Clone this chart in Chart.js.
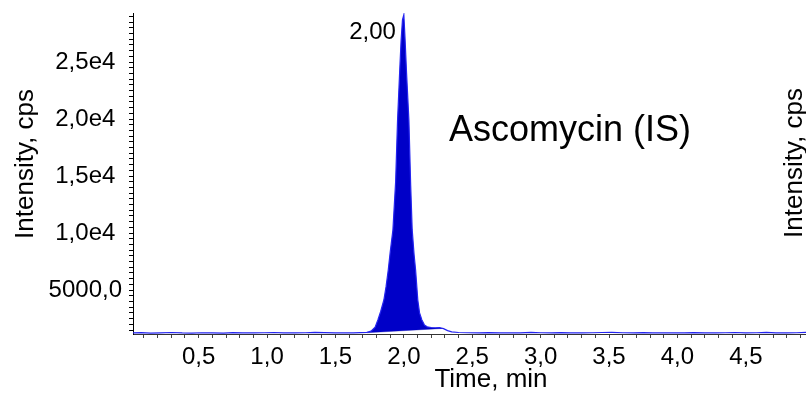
<!DOCTYPE html>
<html><head><meta charset="utf-8">
<style>html,body{margin:0;padding:0;background:#fff;overflow:hidden}#wrap{width:806px;height:395px;position:relative}</style>
<script src="https://cdn.jsdelivr.net/npm/chart.js@4.4.1/dist/chart.umd.min.js"></script>
</head><body><div id="wrap"><canvas id="c" width="806" height="395"></canvas></div>
<script>
// ---- data ----
const times = [0.02,0.08,0.15,0.22,0.30,0.38,0.45,0.52,0.60,0.68,0.75,0.82,0.90,0.98,1.05,1.12,1.20,1.28,1.35,1.42,1.50,1.57,1.63,1.68,
  1.73,1.76,1.79,1.81,1.83,1.854,1.87,1.886,1.90,1.92,1.94,1.954,1.97,1.98,1.99,2.00,2.009,2.02,2.037,2.05,2.061,2.075,2.086,2.102,2.115,2.132,2.15,2.17,2.20,2.23,2.26,2.29,2.32,2.35,2.40,
  2.47,2.55,2.62,2.70,2.78,2.85,2.93,3.00,3.08,3.15,3.22,3.30,3.38,3.45,3.52,3.60,3.68,3.75,3.82,3.90,3.98,4.05,4.12,4.20,4.28,4.35,4.42,4.50,4.58,4.65,4.72,4.80,4.87,4.94];
const intensity = [1240,1270,1230,1250,1280,1240,1230,1260,1250,1230,1270,1250,1240,1260,1280,1250,1240,1260,1290,1270,1250,1260,1250,1270,
  1290,1400,1750,2380,3100,4130,5300,6760,8300,10270,14500,19900,24300,26900,28700,29150,27000,24000,19900,14200,10300,8100,6760,4130,3000,2380,1950,1780,1720,1700,1710,1620,1450,1340,1280,
  1260,1250,1270,1240,1260,1250,1290,1260,1250,1270,1250,1240,1260,1280,1300,1260,1250,1270,1250,1240,1260,1250,1270,1250,1240,1260,1280,1250,1260,1290,1250,1240,1260,1290];
const integrationTimes = [1.73, 2.29];
const integrationLevels = [1260, 1640];
const xMajorTicks = [0.5,1.0,1.5,2.0,2.5,3.0,3.5,4.0,4.5];
const xTickLabels = ['0,5','1,0','1,5','2,0','2,5','3,0','3,5','4,0','4,5'];
const yMajorTicks = [5000,10000,15000,20000,25000];
const yTickLabels = ['5000,0','1,0e4','1,5e4','2,0e4','2,5e4'];
const peakTime = 2.00;
const peakLabel = '2,00';
const compoundName = 'Ascomycin (IS)';
const xTitle = 'Time, min';
const yTitle = 'Intensity, cps';

// minor tick positions (axis decoration)
const xMinor = []; for (let i = 1; i <= 49; i++) xMinor.push(i / 10);
const yMinor = []; for (let v = 1500; v <= 29000; v += 500) yMinor.push(v);

const FONT = "'Liberation Sans', Arial, sans-serif";
const near = (a, b) => Math.abs(a - b) < 1e-6;

const textPlugin = {
  id: 'texts',
  afterDraw(chart) {
    const ctx = chart.ctx;
    const xs = chart.scales.x, ys = chart.scales.y;
    ctx.save();
    ctx.fillStyle = '#000';
    // peak label
    const idx = times.findIndex(t => near(t, peakTime));
    const px = xs.getPixelForValue(times[idx]);
    const py = ys.getPixelForValue(intensity[idx]);
    ctx.font = '24px ' + FONT;
    ctx.textAlign = 'right'; ctx.textBaseline = 'middle';
    ctx.fillText(peakLabel, px - 8, py + 18);
    // compound name
    ctx.font = '36px ' + FONT;
    ctx.textAlign = 'center';
    ctx.fillText(compoundName, 570, 131);
    // x title
    ctx.font = '26px ' + FONT;
    ctx.fillText(xTitle, 491, 380);
    // y title left
    ctx.font = '26px ' + FONT;
    ctx.save(); ctx.translate(26, 164); ctx.rotate(-Math.PI / 2);
    ctx.fillText(yTitle, 0, 0); ctx.restore();
    // neighbouring panel y title (right edge)
    ctx.save(); ctx.translate(795, 163); ctx.rotate(-Math.PI / 2);
    ctx.fillText(yTitle, 0, 0); ctx.restore();
    ctx.restore();
  }
};

new Chart(document.getElementById('c'), {
  type: 'scatter',
  data: {
    datasets: [
      {
        data: times.map((t, i) => ({x: t, y: intensity[i]})),
        showLine: true, borderColor: '#2424f0', borderWidth: 1.2,
        pointRadius: 0, tension: 0,
        fill: {target: 1, above: '#0000c8', below: '#0000c8'}
      },
      {
        data: integrationTimes.map((t, i) => ({x: t, y: integrationLevels[i]})),
        showLine: true, borderColor: 'rgba(0,0,150,0.6)', borderWidth: 0.6,
        pointRadius: 0, fill: false
      }
    ]
  },
  options: {
    responsive: false, animation: false, devicePixelRatio: 1,
    layout: {padding: {top: 13, left: 0, right: 0, bottom: 0}},
    plugins: {legend: {display: false}, tooltip: {enabled: false}},
    scales: {
      x: {
        type: 'linear', min: 0.02, max: 4.94,
        afterBuildTicks(s) { s.ticks = xMinor.map(v => ({value: v})); },
        afterFit(s) { s.height = 61; s.paddingLeft = 0; s.paddingRight = 0; },
        grid: {display: true, drawOnChartArea: false, drawTicks: true, tickLength: 4, color: '#444', lineWidth: 1},
        border: {display: true, color: '#333', width: 1},
        ticks: {
          autoSkip: false, maxRotation: 0, minRotation: 0, padding: 5, color: '#000',
          font: {family: FONT, size: 24},
          callback(v) { const k = xMajorTicks.findIndex(m => near(m, v)); return k >= 0 ? xTickLabels[k] : ''; }
        },
        title: {display: false}
      },
      y: {
        type: 'linear', min: 1150, max: 29300,
        afterBuildTicks(s) { s.ticks = yMinor.map(v => ({value: v})); },
        afterFit(s) { s.width = 133; s.paddingTop = 0; s.paddingBottom = 0; },
        grid: {display: true, drawOnChartArea: false, drawTicks: true, tickLength: 4, color: '#000', lineWidth: 1},
        border: {display: true, color: '#000', width: 1},
        ticks: {
          autoSkip: false, padding: 7, crossAlign: 'center', color: '#000',
          font: {family: FONT, size: 24},
          callback(v) { const k = yMajorTicks.findIndex(m => near(m, v)); return k >= 0 ? yTickLabels[k] : ''; }
        },
        title: {display: false}
      }
    }
  },
  plugins: [textPlugin]
});
</script></body></html>
